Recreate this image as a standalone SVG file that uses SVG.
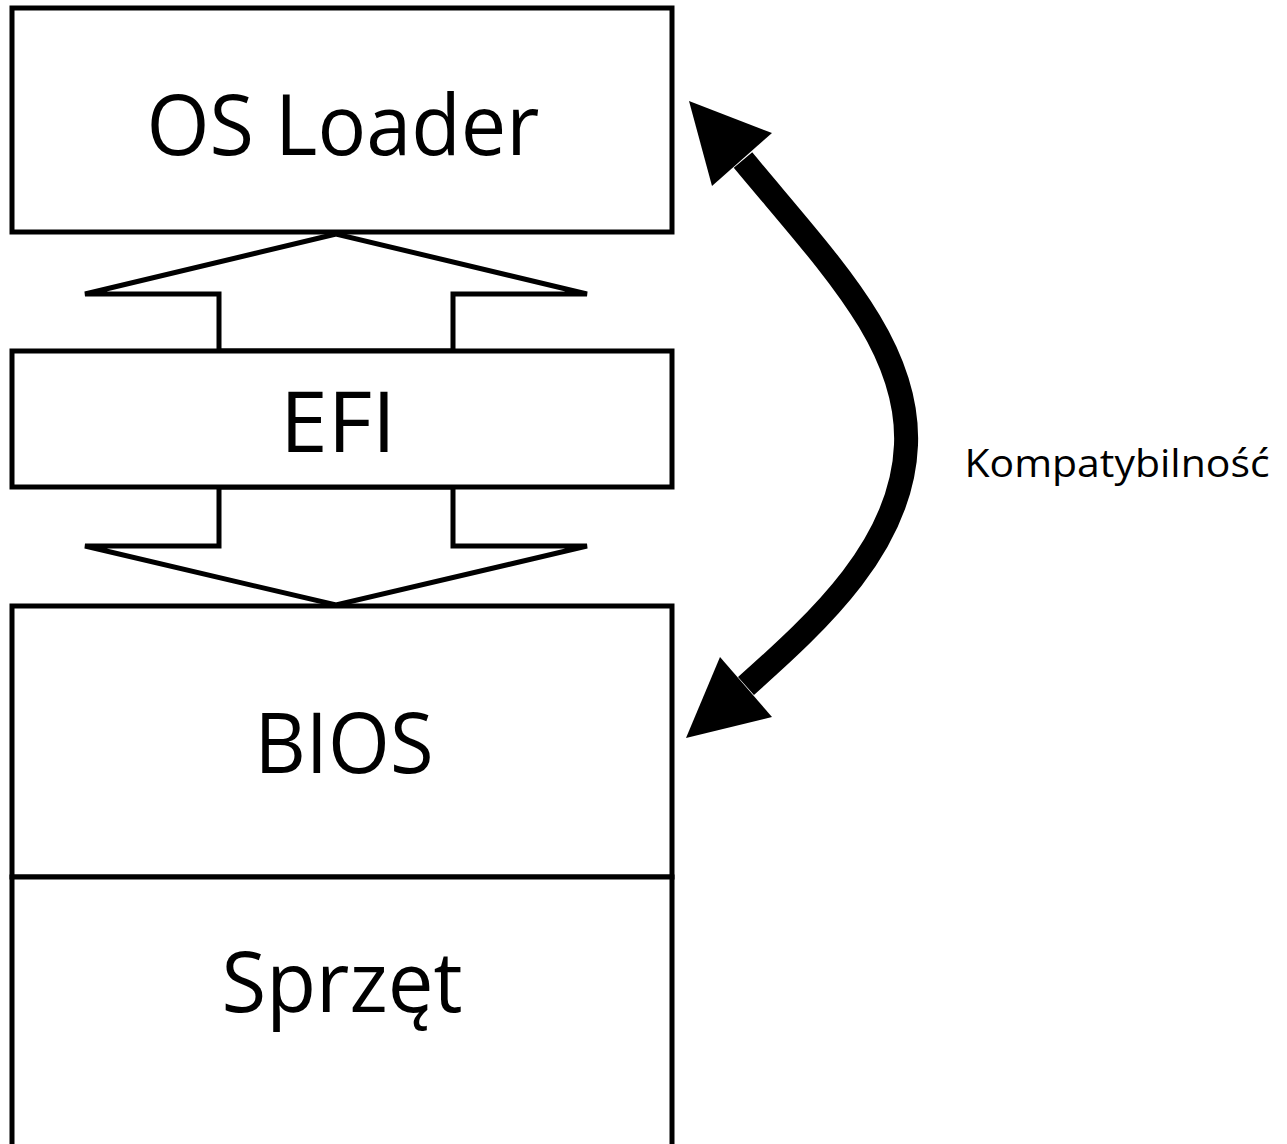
<svg xmlns="http://www.w3.org/2000/svg" width="1287" height="1144" viewBox="0 0 1287 1144">
<style>
.box{fill:#fff;stroke:#000;stroke-width:5}
.blk{fill:#fff;stroke:#000;stroke-width:5;stroke-linejoin:miter}
.t{font-family:"Open Sans","Liberation Sans",sans-serif;fill:#000;text-anchor:middle}
.big{font-size:84px}
.small{font-size:38px}
</style>
<rect width="1287" height="1144" fill="#fff"/>
<g id="connectors">
<polygon class="blk" points="336,234 85,294 219,294 219,351 453,351 453,294 587,294"/>
<polygon class="blk" points="219,487 219,546 85,546 336,605 587,546 453,546 453,487"/>
<path d="M743,160 C830,265 910,345 906,445 C902,545 820,620 746,686" fill="none" stroke="#000" stroke-width="24"/>
<polygon points="689,101 772,133 712,186" fill="#000"/>
<polygon points="686,738 720,657 772,717" fill="#000"/>
</g>
<g id="n-osloader">
<rect class="box" x="12" y="8" width="660" height="224"/>
<text class="t big" x="343" y="155" textLength="393" lengthAdjust="spacingAndGlyphs">OS Loader</text>
</g>
<g id="n-efi">
<rect class="box" x="12" y="351" width="660" height="136"/>
<text class="t big" x="338" y="452" textLength="116" lengthAdjust="spacingAndGlyphs">EFI</text>
</g>
<g id="n-bios">
<rect class="box" x="12" y="606" width="660" height="271"/>
<text class="t big" x="344" y="773" textLength="179" lengthAdjust="spacingAndGlyphs">BIOS</text>
</g>
<g id="n-sprzet">
<rect class="box" x="12" y="877" width="660" height="300"/>
<text class="t big" x="342" y="1012" textLength="241" lengthAdjust="spacingAndGlyphs">Sprzęt</text>
</g>
<g id="label">
<text class="t small" x="1117" y="477" textLength="305" lengthAdjust="spacingAndGlyphs">Kompatybilność</text>
</g>
</svg>
